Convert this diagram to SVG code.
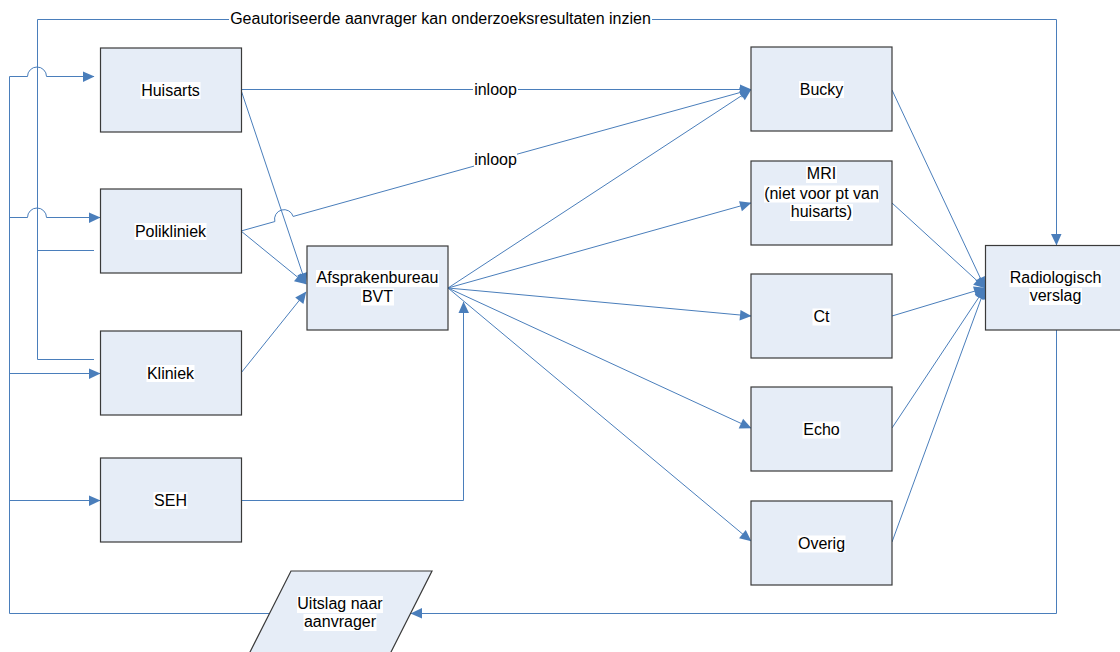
<svg xmlns="http://www.w3.org/2000/svg" width="1120" height="652" viewBox="0 0 1120 652">
  <style>
    .box { fill: #E6EDF7; stroke: #3A3A3A; stroke-width: 1.2; }
    .lbl { font-family: "Liberation Sans", Arial, sans-serif; font-size: 16px; fill: #000; text-anchor: middle; }
    .hl { fill: #FFFFFF; }
    .wire { fill: none; stroke: #4A7EBB; stroke-width: 1; }
    .arr { marker-end: url(#head); }
  </style>
  <defs>
    <marker id="head" markerUnits="userSpaceOnUse" markerWidth="12" markerHeight="10" refX="11" refY="5" orient="auto" overflow="visible">
      <path d="M0,0 L11.5,5 L0,10.5 z" fill="#4A7EBB"/>
    </marker>
  </defs>
  <rect width="1120" height="652" fill="#FFFFFF"/>

  <!-- connectors -->
  <g id="connectors">
    <!-- feedback bus on the left, feeding the requesters -->
    <path class="wire" d="M270,613.5 H9.5 V76.5"/>
    <path class="wire arr" d="M9.5,76.5 H27.5 A9.5,9.5 0 0 1 46.5,76.5 H94"/>
    <path class="wire arr" d="M9.5,217.5 H27.5 A9.5,9.5 0 0 1 46.5,217.5 H100"/>
    <path class="wire arr" d="M9.5,373.5 H100"/>
    <path class="wire arr" d="M9.5,500.5 H100"/>

    <!-- authorised requester access to the report -->
    <path class="wire" d="M94,250.5 H37.5"/>
    <path class="wire arr" d="M94,359.5 H37.5 V19.5 H229 M652,19.5 H1056.5 V245"/>

    <!-- walk-in routes to Bucky -->
    <path class="wire" d="M241,89.5 H473"/>
    <path class="wire arr" d="M518,89.5 H751"/>
    <path class="wire" d="M241,231 L274.85,221.55 A9.5,9.5 0 0 1 293.15,216.45 L474,166.1"/>
    <path class="wire arr" d="M517,154.2 L751,89.5"/>

    <!-- requesters to the booking office -->
    <path class="wire arr" d="M241,90 L306,284"/>
    <path class="wire arr" d="M241,231 L306,284"/>
    <path class="wire arr" d="M241,373 L306,292"/>
    <path class="wire arr" d="M241,500.5 H463.5 V302"/>

    <!-- booking office to modalities -->
    <path class="wire arr" d="M448,288 L751,89.5"/>
    <path class="wire arr" d="M448,288 L751,203"/>
    <path class="wire arr" d="M448,288 L751,316"/>
    <path class="wire arr" d="M448,288 L751,428"/>
    <path class="wire arr" d="M448,288 L751,541"/>

    <!-- modalities to the report -->
    <path class="wire arr" d="M892,90 L985,288"/>
    <path class="wire arr" d="M892,203 L985,288"/>
    <path class="wire arr" d="M892,316 L985,288"/>
    <path class="wire arr" d="M892,428 L985,288"/>
    <path class="wire arr" d="M892,542 L985,288"/>

    <!-- report to result delivery -->
    <path class="wire arr" d="M1056.5,330 V613.5 H411"/>

    <!-- connector labels -->
    <text class="lbl" x="440.5" y="24">Geautoriseerde aanvrager kan onderzoeksresultaten inzien</text>
    <text class="lbl" x="495.5" y="94.5">inloop</text>
    <text class="lbl" x="495.5" y="165">inloop</text>
  </g>

  <!-- nodes -->
  <g id="huisarts">
    <rect class="box" x="100.5" y="48" width="141" height="84"/>
    <rect class="hl" x="140.5" y="82" width="60" height="17"/>
    <text class="lbl" x="170.5" y="95.5">Huisarts</text>
  </g>
  <g id="polikliniek">
    <rect class="box" x="100.5" y="189" width="141" height="84"/>
    <rect class="hl" x="134.5" y="223" width="72" height="17"/>
    <text class="lbl" x="170.5" y="236.5">Polikliniek</text>
  </g>
  <g id="kliniek">
    <rect class="box" x="100.5" y="331" width="141" height="84"/>
    <rect class="hl" x="146.5" y="365" width="48" height="17"/>
    <text class="lbl" x="170.5" y="378.5">Kliniek</text>
  </g>
  <g id="seh">
    <rect class="box" x="100.5" y="458" width="141" height="84"/>
    <rect class="hl" x="153.5" y="492" width="34" height="17"/>
    <text class="lbl" x="170.5" y="505.5">SEH</text>
  </g>
  <g id="afsprakenbureau">
    <rect class="box" x="307" y="246" width="141" height="84"/>
    <rect class="hl" x="316" y="270" width="123" height="17"/>
    <rect class="hl" x="361" y="288.5" width="33" height="17"/>
    <text class="lbl" x="377.5" y="283">Afsprakenbureau</text>
    <text class="lbl" x="377.5" y="301.5">BVT</text>
  </g>
  <g id="bucky">
    <rect class="box" x="751" y="47" width="141" height="84"/>
    <rect class="hl" x="799" y="81" width="45" height="17"/>
    <text class="lbl" x="821.5" y="94.5">Bucky</text>
  </g>
  <g id="mri">
    <rect class="box" x="751" y="161" width="141" height="84"/>
    <rect class="hl" x="806" y="166" width="31" height="17"/>
    <rect class="hl" x="764" y="185.5" width="115" height="17"/>
    <rect class="hl" x="790" y="204" width="63" height="17"/>
    <text class="lbl" x="821.5" y="179">MRI</text>
    <text class="lbl" x="821.5" y="198.5">(niet voor pt van</text>
    <text class="lbl" x="821.5" y="217">huisarts)</text>
  </g>
  <g id="ct">
    <rect class="box" x="751" y="274" width="141" height="84"/>
    <rect class="hl" x="812.5" y="308.5" width="18" height="17"/>
    <text class="lbl" x="821.5" y="321.5">Ct</text>
  </g>
  <g id="echo">
    <rect class="box" x="751" y="387" width="141" height="84"/>
    <rect class="hl" x="802.5" y="421.5" width="38" height="17"/>
    <text class="lbl" x="821.5" y="434.5">Echo</text>
  </g>
  <g id="overig">
    <rect class="box" x="751" y="501" width="141" height="84"/>
    <rect class="hl" x="797.5" y="535.5" width="48" height="17"/>
    <text class="lbl" x="821.5" y="548.5">Overig</text>
  </g>
  <g id="radiologisch-verslag">
    <rect class="box" x="985.5" y="245.5" width="141" height="84.5"/>
    <rect class="hl" x="1009.5" y="270" width="92" height="17"/>
    <rect class="hl" x="1029" y="288" width="53" height="17"/>
    <text class="lbl" x="1055.5" y="283">Radiologisch</text>
    <text class="lbl" x="1055.5" y="301">verslag</text>
  </g>
  <g id="uitslag-naar-aanvrager">
    <polygon class="box" points="291,571 432,571 389.5,655 248.5,655"/>
    <rect class="hl" x="297" y="596" width="86" height="17"/>
    <rect class="hl" x="303.5" y="614" width="73" height="17"/>
    <text class="lbl" x="340" y="609">Uitslag naar</text>
    <text class="lbl" x="340" y="627">aanvrager</text>
  </g>
</svg>
